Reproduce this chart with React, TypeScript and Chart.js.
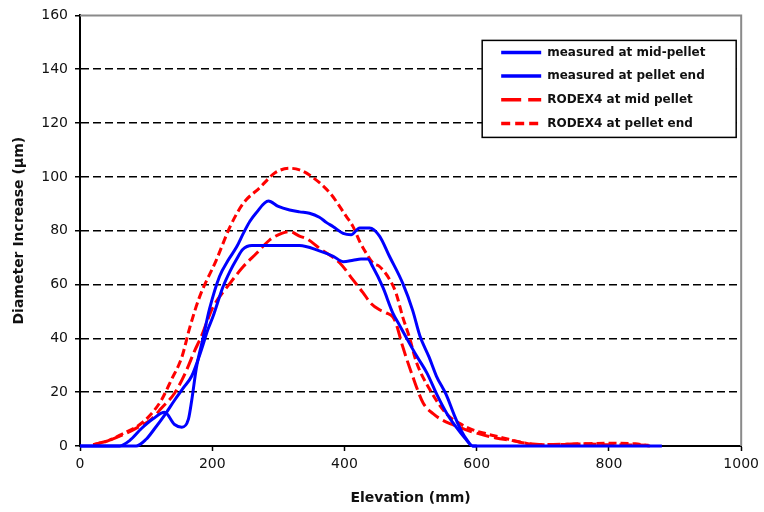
import React, { useEffect, useRef } from "react";
import { Chart, registerables } from "chart.js";

Chart.register(...registerables);

// ---- data ----
const seriesLabels = [
  "measured at mid-pellet",
  "measured at pellet end",
  "RODEX4 at mid pellet",
  "RODEX4 at pellet end",
];

const midMeasElev = [0, 85, 100, 113, 128, 143, 156, 169, 184, 193, 201, 216, 227, 237, 246, 260, 300, 332, 362, 383, 398, 413, 425, 435, 443, 458, 473, 483, 493, 509, 525, 540, 555, 569, 582, 594, 600];
const midMeasDia = [0, 0, 2.5, 6.5, 11.5, 17, 21.5, 26, 36, 43, 48, 59, 65, 69.5, 73, 74.5, 74.5, 74.5, 72.5, 70.5, 68.5, 69, 69.5, 69.5, 66.5, 59, 49.5, 45, 40.5, 33.5, 27, 19, 12, 7, 3, 0, 0];

const endMeasElev = [0, 60, 75, 93, 110, 128, 143, 154, 164, 169, 176, 186, 196, 211, 224, 237, 247, 257, 266, 285, 300, 317, 332, 347, 362, 373, 383, 398, 410, 423, 438, 453, 468, 488, 503, 514, 528, 539, 554, 566, 576, 586, 594, 880];
const endMeasDia = [0, 0, 2, 6.5, 10, 12.5, 8, 7, 10, 17, 29, 40, 51, 63, 69, 74, 79, 83.5, 86.5, 91, 89, 87.7, 87, 86.5, 85, 83, 81.5, 79, 78.5, 81, 81, 78, 70.5, 60.5, 50.5, 41, 33, 26, 19, 11.5, 6, 2, 0, 0];

const midRodElev = [20, 43, 68, 88, 108, 123, 143, 159, 174, 184, 191, 201, 227, 247, 267, 287, 305, 317, 332, 343, 362, 393, 413, 428, 440, 453, 463, 473, 478, 488, 503, 519, 534, 549, 563, 584, 604, 629, 654, 680, 700, 760, 800, 860];
const midRodDia = [0.5, 2, 4.5, 7, 10, 14, 19.6, 27, 35.7, 41, 45.5, 51.5, 60.5, 66.7, 71.6, 76.6, 79, 79.7, 78, 77, 73.5, 68, 61.7, 57, 53, 50.6, 49.5, 48, 45.5, 37, 26, 16, 12, 9.5, 8, 6, 4.5, 3, 2, 0.8, 0.5, 0.8, 0.5, 0.3];

const endRodElev = [20, 43, 68, 88, 108, 123, 138, 154, 166, 181, 206, 227, 247, 272, 295, 317, 332, 347, 378, 403, 413, 423, 433, 443, 453, 468, 478, 488, 498, 509, 529, 554, 574, 594, 615, 640, 665, 690, 720, 760, 800, 840, 862];
const endRodDia = [0.5, 2, 5, 7.5, 12, 17, 24.5, 33, 44, 55.5, 69, 81.5, 90.2, 96, 101.5, 103.2, 102.6, 100.7, 94, 85.2, 81.5, 76, 71.6, 68, 66.7, 62, 56.8, 48, 40.6, 31, 21, 12, 8.4, 6, 4.5, 3, 1.5, 0.5, 0.5, 0.8, 1, 0.8, 0];

const xTicks = [0, 200, 400, 600, 800, 1000];
const yTicks = [0, 20, 40, 60, 80, 100, 120, 140, 160];

const pts = (xs: number[], ys: number[]) => xs.map((x, i) => ({ x, y: ys[i] }));

const FONT = "'DejaVu Sans', 'Liberation Sans', Arial, sans-serif";

const frameBorderPlugin = {
  id: "frameBorder",
  beforeDatasetsDraw(chart: any) {
    const { ctx, chartArea } = chart;
    ctx.save();
    ctx.strokeStyle = "#8a8a8a";
    ctx.lineWidth = 2;
    ctx.beginPath();
    ctx.moveTo(chartArea.left, chartArea.top);
    ctx.lineTo(chartArea.right, chartArea.top);
    ctx.lineTo(chartArea.right, chartArea.bottom);
    ctx.stroke();
    ctx.restore();
  },
};

const boxLegendPlugin = {
  id: "boxLegend",
  afterDraw(chart: any) {
    const { ctx, chartArea } = chart;
    const x0 = chartArea.right - 259;
    const y0 = chartArea.top + 25;
    const w = 254;
    const h = 97;
    ctx.save();
    ctx.fillStyle = "#ffffff";
    ctx.fillRect(x0, y0, w, h);
    ctx.strokeStyle = "#000000";
    ctx.lineWidth = 1.5;
    ctx.strokeRect(x0, y0, w, h);
    chart.data.datasets.forEach((ds: any, i: number) => {
      const y = y0 + 12 + i * 23.7;
      ctx.strokeStyle = ds.borderColor;
      ctx.lineWidth = 3.5;
      ctx.setLineDash(ds.legendDash || []);
      ctx.beginPath();
      ctx.moveTo(x0 + 19, y);
      ctx.lineTo(x0 + 59, y);
      ctx.stroke();
      ctx.setLineDash([]);
      ctx.fillStyle = "#111";
      ctx.font = `bold 12px ${FONT}`;
      ctx.textBaseline = "middle";
      ctx.textAlign = "left";
      ctx.fillText(ds.label, x0 + 65, y);
    });
    ctx.restore();
  },
};

function DiameterChart() {
  const canvasRef = useRef<HTMLCanvasElement | null>(null);

  useEffect(() => {
    if (!canvasRef.current) return;
    const common = {
      fill: false,
      pointRadius: 0,
      borderWidth: 3,
      cubicInterpolationMode: "monotone" as const,
      clip: false as any,
    };
    const chart = new Chart(canvasRef.current, {
      type: "line",
      data: {
        datasets: [
          { ...common, label: seriesLabels[0], data: pts(midMeasElev, midMeasDia), borderColor: "#0000ff", borderDash: [], legendDash: [] } as any,
          { ...common, label: seriesLabels[1], data: pts(endMeasElev, endMeasDia), borderColor: "#0000ff", borderDash: [], legendDash: [] } as any,
          { ...common, label: seriesLabels[2], data: pts(midRodElev, midRodDia), borderColor: "#ff0000", borderDash: [13, 5], legendDash: [20, 7] } as any,
          { ...common, label: seriesLabels[3], data: pts(endRodElev, endRodDia), borderColor: "#ff0000", borderDash: [8, 4], legendDash: [9, 5] } as any,
        ],
      },
      options: {
        animation: false,
        responsive: true,
        maintainAspectRatio: false,
        parsing: false as any,
        layout: { padding: { top: 15, right: 22, left: 0, bottom: 0 } },
        plugins: {
          legend: { display: false },
          tooltip: { enabled: false },
        },
        scales: {
          x: {
            type: "linear",
            min: 0,
            max: 1000,
            afterBuildTicks: (scale: any) => {
              scale.ticks = xTicks.map((v) => ({ value: v }));
            },
            afterFit: (scale: any) => {
              scale.height = 66;
            },
            ticks: {
              color: "#111",
              font: { family: FONT, size: 14 },
              padding: 5,
              maxRotation: 0,
              callback: (v: any) => String(v),
            },
            grid: {
              drawOnChartArea: false,
              drawTicks: true,
              tickLength: 5,
              tickColor: "#000",
              tickWidth: 1.5,
            },
            border: { display: true, color: "#000", width: 2 },
            title: {
              display: true,
              text: "Elevation (mm)",
              color: "#111",
              font: { family: FONT, size: 14, weight: "bold" },
              padding: { top: 0, bottom: 5 },
            },
          },
          y: {
            type: "linear",
            min: 0,
            max: 160,
            afterBuildTicks: (scale: any) => {
              scale.ticks = yTicks.map((v) => ({ value: v }));
            },
            afterFit: (scale: any) => {
              scale.width = 80;
            },
            ticks: {
              color: "#111",
              font: { family: FONT, size: 14 },
              padding: 7,
              callback: (v: any) => String(v),
            },
            grid: {
              color: (ctx: any) =>
                ctx.tick && (ctx.tick.value === 0 || ctx.tick.value === 160) ? "rgba(0,0,0,0)" : "#000",
              lineWidth: 1.5,
              drawTicks: true,
              tickLength: 5,
              tickColor: "#000",
              tickWidth: 1.5,
              tickBorderDash: [],
            },
            border: { display: true, color: "#000", width: 2, dash: [8, 4] },
            title: {
              display: true,
              text: "Diameter Increase (µm)",
              color: "#111",
              font: { family: FONT, size: 14, weight: "bold" },
              padding: { top: 11, bottom: 0 },
            },
          },
        },
      },
      plugins: [frameBorderPlugin, boxLegendPlugin],
    });
    return () => chart.destroy();
  }, []);

  return (
    <div style={{ position: "absolute", left: 0, top: 0, width: 764, height: 512, background: "#ffffff" }}>
      <canvas ref={canvasRef} />
    </div>
  );
}

export default function App() {
  return <DiameterChart />;
}
